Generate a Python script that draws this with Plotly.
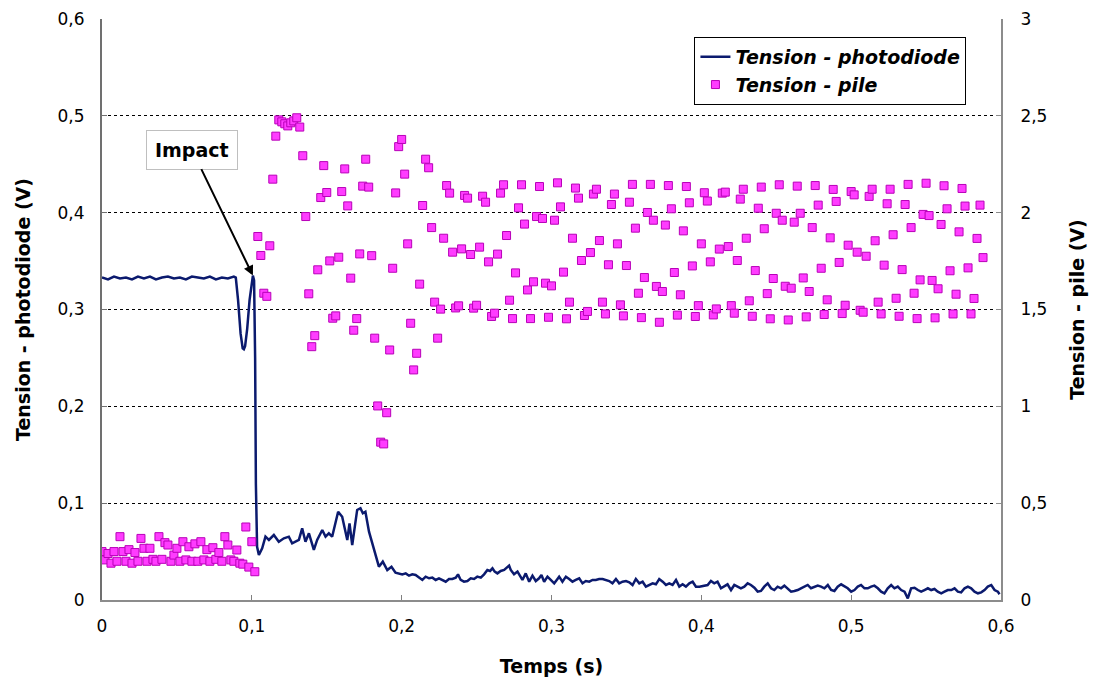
import plotly.graph_objects as go

# ---------------- data ----------------
# Tension - photodiode (V)
pd_t_pre = [0.000, 0.004, 0.008, 0.012, 0.016, 0.020, 0.024, 0.028, 0.032, 0.036, 0.040, 0.044,
            0.048, 0.052, 0.056, 0.060, 0.064, 0.068, 0.072, 0.076, 0.080, 0.084, 0.088, 0.0893]
pd_v_pre = [0.333, 0.331, 0.334, 0.332, 0.333, 0.331, 0.334, 0.332, 0.334, 0.331, 0.333, 0.334,
            0.332, 0.333, 0.331, 0.334, 0.333, 0.332, 0.334, 0.331, 0.333, 0.332, 0.334, 0.333]

pd_t_impact = [0.0908, 0.0925, 0.0939, 0.0947, 0.0955, 0.0969, 0.0985, 0.0999, 0.1007, 0.1015,
               0.1022, 0.1027, 0.1035, 0.1047]
pd_v_impact = [0.310, 0.275, 0.260, 0.259, 0.262, 0.280, 0.310, 0.330, 0.335, 0.330,
               0.250, 0.120, 0.055, 0.0465]

pd_t_a = [0.1069, 0.1091, 0.1114, 0.1147, 0.1180, 0.1214, 0.1247, 0.1269, 0.1291, 0.1314, 0.1336,
          0.1358, 0.1381, 0.1414, 0.1436, 0.1470, 0.1492, 0.1514, 0.1536, 0.1576, 0.1603, 0.1637,
          0.1652, 0.1670, 0.1703, 0.1725, 0.1741, 0.1758, 0.1782, 0.1815, 0.1848, 0.1874, 0.1904,
          0.1932, 0.1959]
pd_v_a = [0.0534, 0.0654, 0.0620, 0.0671, 0.0602, 0.0637, 0.0654, 0.0585, 0.0602, 0.0620, 0.0740,
          0.0602, 0.0689, 0.0517, 0.0620, 0.0723, 0.0654, 0.0689, 0.0654, 0.0912, 0.0860, 0.0620,
          0.0792, 0.0568, 0.0930, 0.0947, 0.0896, 0.0912, 0.0706, 0.0517, 0.0344, 0.0396, 0.0310,
          0.0344, 0.0282]

pd_t_b = [0.2004, 0.2027, 0.2049, 0.2071, 0.2093, 0.2116, 0.2138, 0.2160, 0.2183, 0.2205, 0.2227,
          0.2249, 0.2272, 0.2294, 0.2316, 0.2338, 0.2361, 0.2376, 0.2394, 0.2416, 0.2439, 0.2461,
          0.2483, 0.2505, 0.2528, 0.2550, 0.2572, 0.2590, 0.2606, 0.2621, 0.2639, 0.2661, 0.2684,
          0.2706, 0.2717, 0.2728, 0.2750, 0.2773, 0.2790, 0.2806, 0.2828, 0.2851, 0.2873, 0.2895,
          0.2917, 0.2933, 0.2951, 0.2973, 0.2995, 0.3018, 0.3035, 0.3051, 0.3073, 0.3096, 0.3118,
          0.3140, 0.3162, 0.3185, 0.3207, 0.3229, 0.3252, 0.3274, 0.3296, 0.3318, 0.3341, 0.3363,
          0.3385, 0.3407, 0.3430, 0.3452, 0.3474, 0.3497, 0.3519, 0.3541, 0.3563, 0.3586, 0.3608,
          0.3630, 0.3653, 0.3675, 0.3697, 0.3719, 0.3742, 0.3764, 0.3786, 0.3808, 0.3831, 0.3853,
          0.3875, 0.3897, 0.3920, 0.3942, 0.3964, 0.3987]
pd_v_b = [0.0265, 0.0275, 0.0251, 0.0265, 0.0258, 0.0231, 0.0207, 0.0241, 0.0224, 0.0231, 0.0207,
          0.0224, 0.0207, 0.0189, 0.0217, 0.0217, 0.0231, 0.0265, 0.0207, 0.0189, 0.0196, 0.0224,
          0.0217, 0.0241, 0.0231, 0.0265, 0.0310, 0.0300, 0.0327, 0.0293, 0.0275, 0.0300, 0.0310,
          0.0334, 0.0355, 0.0310, 0.0265, 0.0293, 0.0241, 0.0207, 0.0275, 0.0189, 0.0251, 0.0196,
          0.0224, 0.0258, 0.0189, 0.0241, 0.0207, 0.0172, 0.0207, 0.0241, 0.0189, 0.0241, 0.0217,
          0.0189, 0.0207, 0.0224, 0.0172, 0.0196, 0.0189, 0.0207, 0.0207, 0.0217, 0.0217, 0.0207,
          0.0196, 0.0172, 0.0217, 0.0172, 0.0189, 0.0196, 0.0183, 0.0155, 0.0217, 0.0172, 0.0189,
          0.0138, 0.0155, 0.0172, 0.0162, 0.0217, 0.0189, 0.0155, 0.0172, 0.0155, 0.0207, 0.0138,
          0.0162, 0.0138, 0.0172, 0.0189, 0.0138, 0.0138]

pd_t_c = [0.4042, 0.4064, 0.4086, 0.4108, 0.4131, 0.4153, 0.4175, 0.4198, 0.4220, 0.4242, 0.4264,
          0.4287, 0.4309, 0.4331, 0.4354, 0.4376, 0.4398, 0.4420, 0.4443, 0.4465, 0.4487, 0.4509,
          0.4532, 0.4554, 0.4576, 0.4599, 0.4621, 0.4643, 0.4665, 0.4688, 0.4710, 0.4732, 0.4755,
          0.4777, 0.4799, 0.4821, 0.4844, 0.4866, 0.4888, 0.4910, 0.4933, 0.4955, 0.4977, 0.5000,
          0.5022, 0.5044, 0.5066, 0.5089, 0.5111, 0.5133, 0.5155, 0.5178, 0.5200, 0.5222, 0.5244,
          0.5267, 0.5289, 0.5311, 0.5334, 0.5356, 0.5378, 0.5400, 0.5423, 0.5445, 0.5467, 0.5489,
          0.5512, 0.5534, 0.5556, 0.5578, 0.5601, 0.5623, 0.5645, 0.5668, 0.5690, 0.5712, 0.5734,
          0.5757, 0.5779, 0.5801, 0.5823, 0.5846, 0.5868, 0.5890, 0.5912, 0.5935, 0.5957, 0.5979,
          0.5990]
pd_v_c = [0.0155, 0.0196, 0.0172, 0.0189, 0.0121, 0.0138, 0.0162, 0.0103, 0.0155, 0.0138, 0.0121,
          0.0138, 0.0172, 0.0155, 0.0127, 0.0086, 0.0093, 0.0138, 0.0172, 0.0121, 0.0103, 0.0138,
          0.0121, 0.0148, 0.0121, 0.0086, 0.0093, 0.0103, 0.0121, 0.0138, 0.0155, 0.0121, 0.0138,
          0.0148, 0.0138, 0.0121, 0.0155, 0.0103, 0.0093, 0.0138, 0.0162, 0.0138, 0.0121, 0.0086,
          0.0103, 0.0138, 0.0155, 0.0121, 0.0121, 0.0138, 0.0148, 0.0121, 0.0086, 0.0069, 0.0121,
          0.0155, 0.0121, 0.0138, 0.0103, 0.0086, 0.0017, 0.0121, 0.0127, 0.0103, 0.0086, 0.0103,
          0.0121, 0.0103, 0.0114, 0.0086, 0.0069, 0.0086, 0.0103, 0.0103, 0.0121, 0.0086, 0.0079,
          0.0121, 0.0138, 0.0121, 0.0086, 0.0069, 0.0079, 0.0103, 0.0138, 0.0155, 0.0103, 0.0086,
          0.0059]

# Tension - pile (V), one sample every 0.002 s
pile_dt = 0.002
pile_pre = [0.250, 0.207, 0.240, 0.190, 0.250, 0.200, 0.327, 0.250, 0.200, 0.260, 0.190, 0.245,
            0.200, 0.318, 0.267, 0.200, 0.267, 0.210, 0.200, 0.327, 0.210, 0.296, 0.284, 0.200,
            0.232, 0.267, 0.200, 0.301, 0.207, 0.275, 0.200, 0.290, 0.200, 0.301, 0.207, 0.260,
            0.200, 0.270, 0.210, 0.245, 0.200, 0.327, 0.284, 0.207, 0.200, 0.258, 0.190, 0.185,
            0.377, 0.170, 0.301, 0.146]
pile_post_a = [1.877, 1.779, 1.584, 1.568, 1.829, 2.173, 2.395, 2.479, 2.469, 2.459, 2.448, 2.464,
               2.474, 2.490, 2.442, 2.294, 1.980, 1.581, 1.308, 1.365, 1.705, 2.078, 2.243, 2.104,
               1.751, 1.455, 1.467, 1.770, 2.109, 2.226, 2.035, 1.662, 1.393, 1.453, 1.787, 2.137,
               2.276, 2.132, 1.778, 1.352, 1.002, 0.815, 0.806, 0.967, 1.291, 1.713, 2.102, 2.341,
               2.378, 2.199, 1.839, 1.429, 1.188, 1.274, 1.631, 2.037, 2.276]
pile_post_b = [2.232, 1.923, 1.538, 1.352, 1.502, 1.868, 2.140, 2.101, 1.796, 1.508,
               1.519, 1.813, 2.089, 2.075, 1.784, 1.507, 1.522, 1.822, 2.085, 2.054,
               1.746, 1.464, 1.481, 1.786, 2.101, 2.144, 1.882, 1.548, 1.453, 1.689,
               2.025, 2.144, 1.941, 1.601, 1.453, 1.643, 1.980, 2.135, 1.970, 1.636,
               1.460, 1.622, 1.961, 2.154, 2.030, 1.693, 1.452, 1.538, 1.868, 2.127,
               2.075, 1.753, 1.469, 1.490, 1.794, 2.096, 2.121, 1.856, 1.538, 1.477,
               1.731, 2.042, 2.096, 1.839, 1.524, 1.467, 1.727, 2.054, 2.146, 1.920,
               1.584, 1.458, 1.665, 2.001, 2.146, 1.961, 1.619, 1.434, 1.593, 1.936,
               2.140, 2.020, 1.691, 1.471, 1.576, 1.906, 2.135, 2.051, 1.725, 1.464,
               1.520, 1.839, 2.103, 2.060, 1.746, 1.472, 1.503, 1.812]
pile_post_c = [2.101, 2.106, 1.825, 1.520, 1.481, 1.753, 2.070, 2.121, 1.868, 1.545,
               1.465, 1.701, 2.023, 2.132, 1.917, 1.582, 1.452, 1.660, 1.997, 2.144,
               1.961, 1.620, 1.446, 1.610, 1.951, 2.137, 1.997, 1.663, 1.462, 1.593,
               1.923, 2.140, 2.039, 1.713, 1.474, 1.550, 1.870, 2.120, 2.058, 1.743,
               1.479, 1.522, 1.832, 2.109, 2.092, 1.796, 1.496, 1.486, 1.775, 2.084,
               2.121, 1.855, 1.538, 1.477, 1.729, 2.046, 2.121, 1.886, 1.558, 1.465,
               1.706, 2.042, 2.146, 1.923, 1.584, 1.453, 1.653, 1.991, 2.152, 1.985,
               1.650, 1.457, 1.607, 1.939, 2.139, 2.020, 1.700, 1.477, 1.579, 1.901,
               2.125, 2.034, 1.715, 1.477, 1.557, 1.867, 2.039, 1.768]

x_tickvals = [0, 0.1, 0.2, 0.3, 0.4, 0.5, 0.6]
x_ticktext = ["0", "0,1", "0,2", "0,3", "0,4", "0,5", "0,6"]
y_tickvals = [0, 0.1, 0.2, 0.3, 0.4, 0.5, 0.6]
y_ticktext = ["0", "0,1", "0,2", "0,3", "0,4", "0,5", "0,6"]
y2_tickvals = [0, 0.5, 1, 1.5, 2, 2.5, 3]
y2_ticktext = ["0", "0,5", "1", "1,5", "2", "2,5", "3"]
grid_vals = [0.1, 0.2, 0.3, 0.4, 0.5]

# ---------------- figure ----------------
pd_t = pd_t_pre + pd_t_impact + pd_t_a + pd_t_b + pd_t_c
pd_v = pd_v_pre + pd_v_impact + pd_v_a + pd_v_b + pd_v_c
pile_v = pile_pre + pile_post_a + pile_post_b + pile_post_c
pile_t = [round(i * pile_dt, 4) for i in range(len(pile_v))]

FONT = "DejaVu Sans"

fig = go.Figure()
fig.add_trace(go.Scatter(
    x=pd_t, y=pd_v, mode="lines", name="Tension - photodiode",
    line=dict(color="#0b1a6e", width=2.5), yaxis="y", legendgroup="a"))
fig.add_trace(go.Scatter(
    x=pile_t, y=pile_v, mode="markers", name="Tension - pile",
    marker=dict(symbol="square", size=8, color="#ff3cff",
                line=dict(color="#b800b8", width=1)),
    yaxis="y2", legendgroup="b"))

axis_font = dict(family=FONT, size=17, color="black")
title_font = dict(family=FONT, size=19, color="black", weight="bold")

fig.update_layout(
    width=1089, height=679,
    margin=dict(l=94, r=96, t=11, b=87, autoexpand=False),
    paper_bgcolor="white", plot_bgcolor="white",
    showlegend=True,
    legend=dict(x=0.659, y=0.969, xanchor="left", yanchor="top",
                bgcolor="white", bordercolor="black", borderwidth=1,
                font=dict(family=FONT, size=19, color="black", weight="bold", style="italic"),
                tracegroupgap=18, traceorder="normal", itemwidth=30),
    xaxis=dict(range=[0, 0.6], tickvals=x_tickvals, ticktext=x_ticktext,
               tickfont=axis_font, ticks="inside", ticklen=5, tickcolor="#808080",
               showline=True, linecolor="#8c8c8c", linewidth=2, showgrid=False,
               zeroline=False, ticklabelstandoff=10,
               title=dict(text="Temps (s)", font=title_font, standoff=24)),
    yaxis=dict(range=[0, 0.6], tickvals=y_tickvals, ticktext=y_ticktext,
               tickfont=axis_font, ticks="inside", ticklen=5, tickcolor="#707070",
               showline=True, linecolor="#707070", linewidth=2, showgrid=False,
               zeroline=False, ticklabelstandoff=12,
               minor=dict(tickmode="array", tickvals=grid_vals, showgrid=True,
                          gridcolor="black", griddash="dot", gridwidth=1, ticks=""),
               title=dict(text="Tension - photodiode (V)", font=title_font, standoff=22)),
    yaxis2=dict(range=[0, 3], tickvals=y2_tickvals, ticktext=y2_ticktext,
                overlaying="y", side="right", anchor="x",
                tickfont=axis_font, ticks="inside", ticklen=5, tickcolor="#8c8c8c",
                showline=True, linecolor="#8c8c8c", linewidth=2, showgrid=False,
                zeroline=False, ticklabelstandoff=14,
                title=dict(text="Tension - pile (V)", font=title_font, standoff=24)),
)

fig.add_annotation(
    x=0.1007, y=0.335, xref="x", yref="y",
    text="Impact", showarrow=True, ax=-61, ay=-126,
    arrowhead=2, arrowsize=1, arrowwidth=2, arrowcolor="black", standoff=0,
    font=dict(family=FONT, size=19, color="black", weight="bold"),
    bgcolor="white", bordercolor="#bfbfbf", borderwidth=1, borderpad=8)

fig.write_html("out.html")
